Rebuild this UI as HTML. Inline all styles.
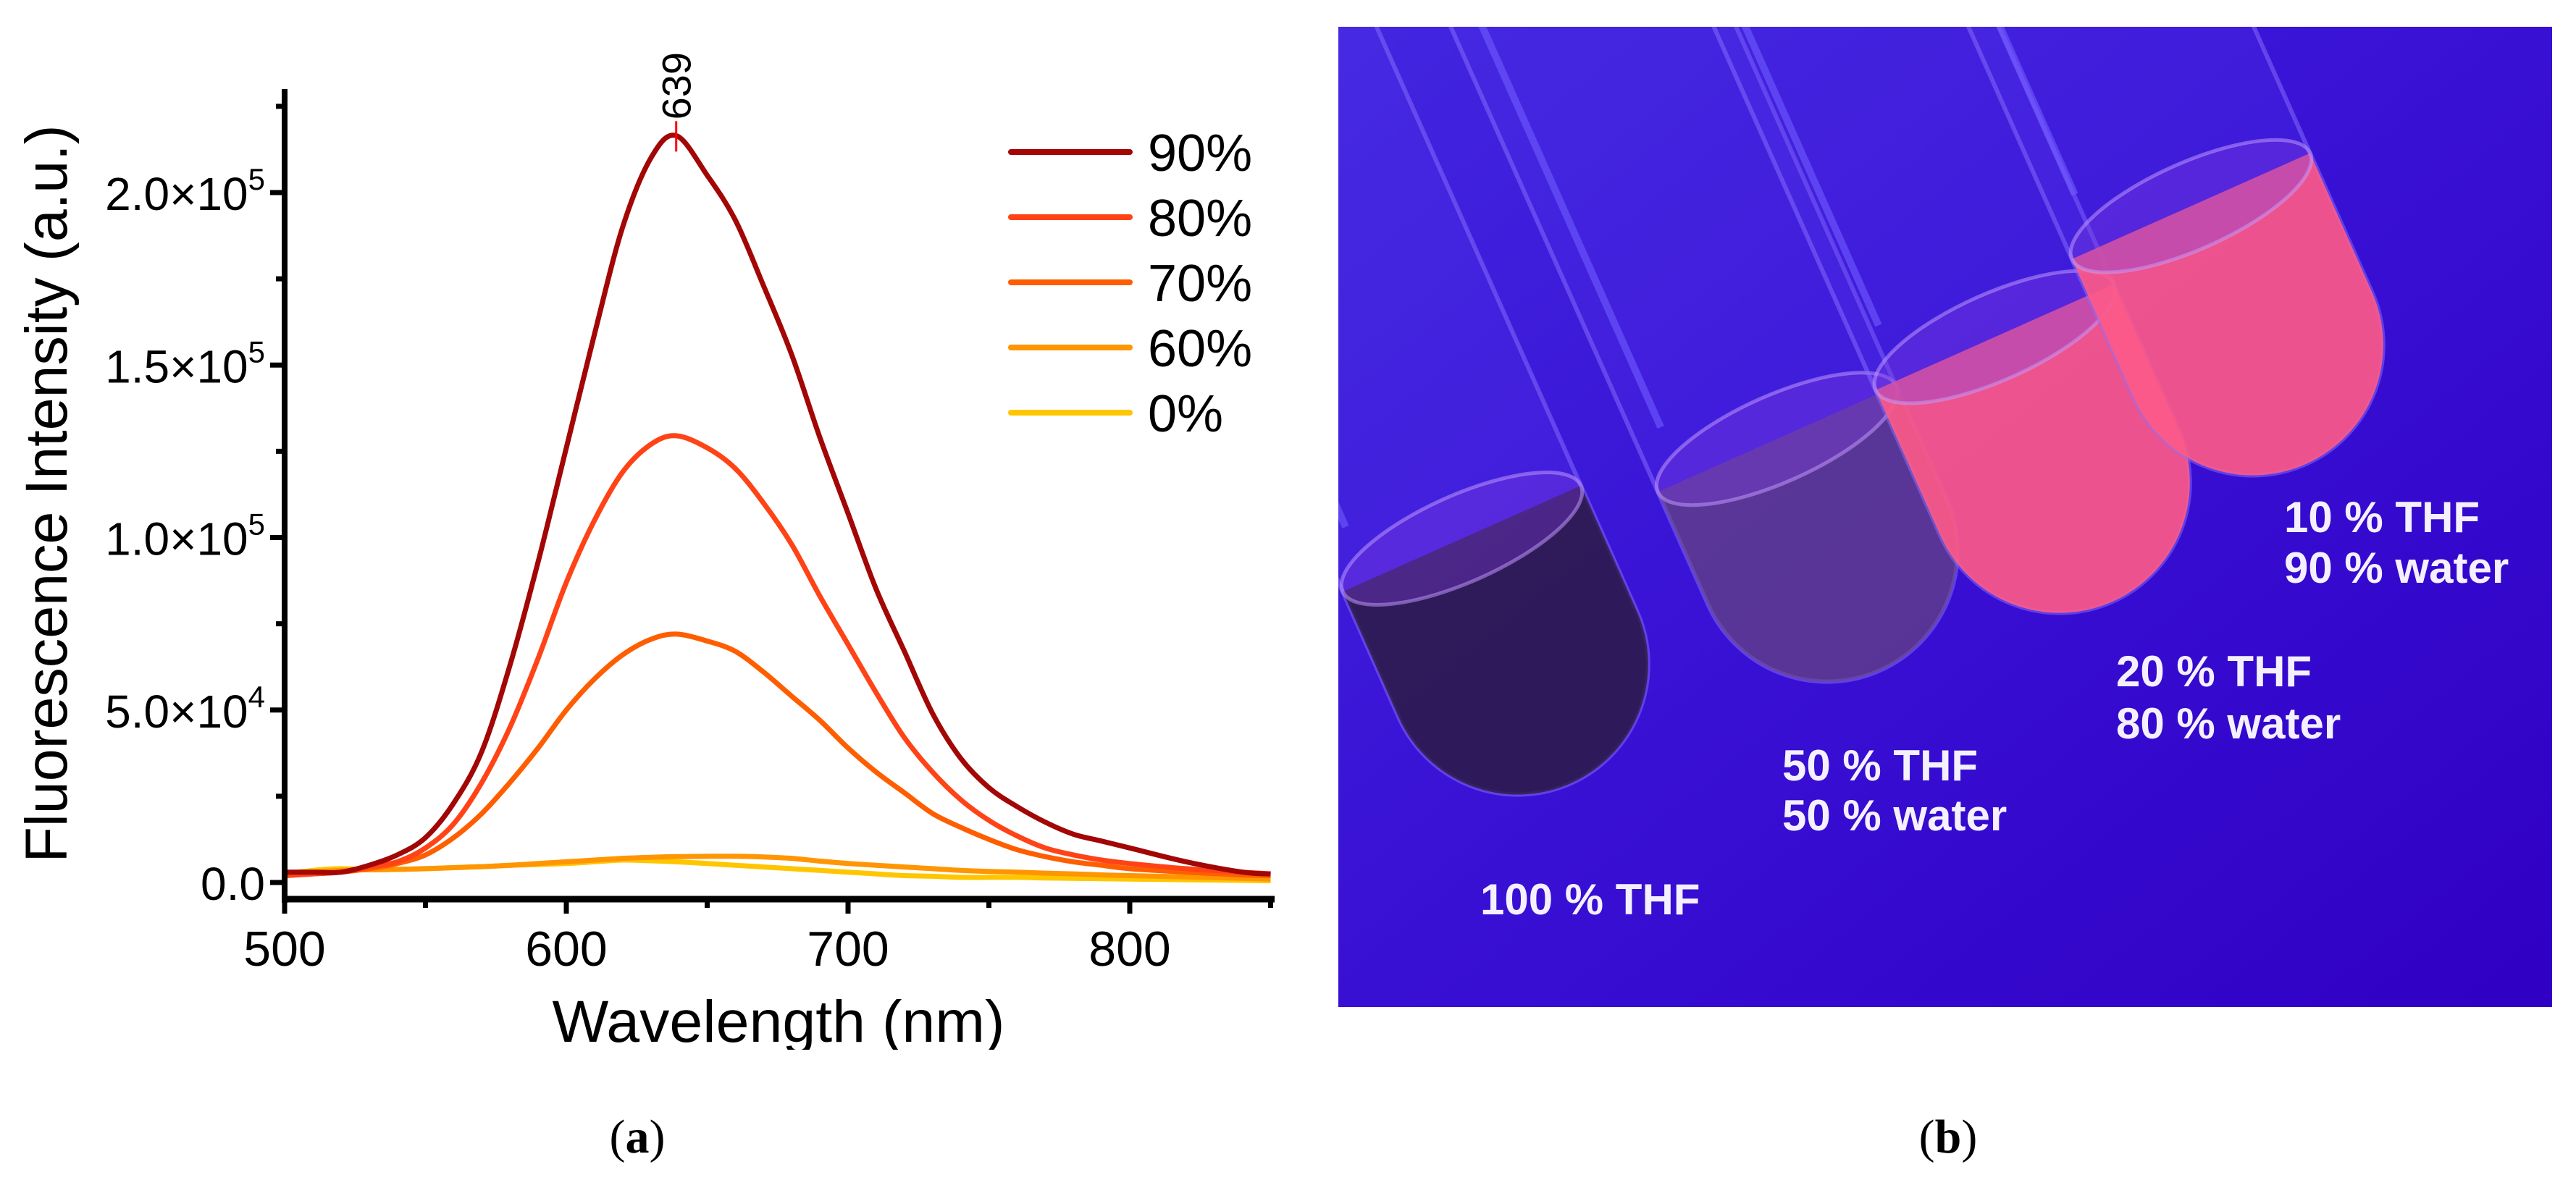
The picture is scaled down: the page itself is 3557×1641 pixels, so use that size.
<!DOCTYPE html>
<html><head><meta charset="utf-8"><style>
html,body{margin:0;padding:0;background:#fff;}
body{width:3557px;height:1641px;overflow:hidden;position:relative;}
svg{position:absolute;left:0;top:0;}
</style></head><body>
<svg id="fig" width="3557" height="1641" viewBox="0 0 3557 1641" xmlns="http://www.w3.org/2000/svg" font-family="Liberation Sans, sans-serif">
  <defs>
    <clipPath id="photoClip"><rect x="1848" y="37" width="1676" height="1354"/></clipPath>
    <clipPath id="wlClip"><rect x="600" y="1360" width="900" height="90"/></clipPath>
    <linearGradient id="bgGrad" x1="0" y1="0" x2="1" y2="1">
      <stop offset="0" stop-color="#4226e0"/>
      <stop offset="0.5" stop-color="#3810d4"/>
      <stop offset="1" stop-color="#3000c4"/>
    </linearGradient>
  </defs>
  <g id="chart"></g>
  <text x="880" y="1592" text-anchor="middle" font-family="Liberation Serif, serif" font-size="66">(<tspan font-weight="bold">a</tspan>)</text>

  <g clip-path="url(#photoClip)">
    <rect x="1848" y="37" width="1676" height="1354" fill="url(#bgGrad)"/>
    <g id="tubes"></g>
    <g font-weight="bold" font-size="60" fill="#f4f0ff">
      <text x="3154" y="735">10 % THF</text>
      <text x="3154" y="805">90 % water</text>
      <text x="2922" y="948">20 % THF</text>
      <text x="2922" y="1020">80 % water</text>
      <text x="2461" y="1078">50 % THF</text>
      <text x="2461" y="1147">50 % water</text>
      <text x="2044" y="1263">100 % THF</text>
    </g>
  </g>
  <text x="2690" y="1592" text-anchor="middle" font-family="Liberation Serif, serif" font-size="66">(<tspan font-weight="bold">b</tspan>)</text>
</svg>
<script>
const NS = "http://www.w3.org/2000/svg";
const wavelengths = [500,510,520,530,540,550,560,570,580,590,600,610,620,630,639,650,660,670,680,690,700,710,720,730,740,750,760,770,780,790,800,820,840,850];
const s90 = [0.3,0.3,0.3,0.5,0.8,1.3,2.3,3.8,6.3,9.3,12.6,15.9,19.0,21.0,21.65,20.5,19.2,17.3,15.3,12.9,10.7,8.5,6.7,4.9,3.6,2.75,2.2,1.75,1.4,1.2,1.0,0.6,0.3,0.25];
const s80 = [0.2,0.25,0.3,0.45,0.6,1.0,1.7,2.9,4.5,6.5,8.7,10.5,11.9,12.7,12.95,12.6,12.0,11.0,9.8,8.3,6.9,5.5,4.2,3.2,2.4,1.8,1.35,1.0,0.8,0.65,0.55,0.4,0.3,0.25];
const s70 = [0.2,0.25,0.3,0.4,0.55,0.8,1.3,2.0,2.9,3.9,5.0,5.9,6.6,7.05,7.2,7.0,6.7,6.1,5.4,4.7,3.9,3.2,2.6,2.0,1.6,1.25,0.95,0.75,0.6,0.5,0.4,0.3,0.22,0.2];
const s60 = [0.2,0.3,0.35,0.37,0.38,0.4,0.43,0.46,0.5,0.55,0.6,0.65,0.7,0.73,0.75,0.76,0.76,0.74,0.7,0.62,0.55,0.5,0.45,0.4,0.35,0.32,0.3,0.27,0.25,0.22,0.2,0.16,0.12,0.1];
const s0 = [0.25,0.35,0.4,0.37,0.38,0.4,0.43,0.46,0.5,0.52,0.55,0.6,0.65,0.63,0.6,0.55,0.5,0.45,0.4,0.35,0.3,0.25,0.2,0.18,0.15,0.15,0.15,0.13,0.12,0.11,0.1,0.08,0.06,0.05];
const seriesNames = ["90%","80%","70%","60%","0%"];
const seriesColors = ["#a20605","#ff4317","#ff5e00","#ff9500","#ffc600"];
const xTicks = [500,600,700,800];
const yTicks = [0,5,10,15,20];
const yTickMant = ["0.0","5.0","1.0","1.5","2.0"];
const yTickExp = ["","4","5","5","5"];
const peakLabel = "639";

const X0=393, XPX=389, Y0=1219, YPX=47.65;
const xs = w => X0 + (w-500)/100*XPX;
const ys = v => Y0 - v*YPX;
const chart = document.getElementById('chart');
function mk(tag, attrs, parent){const e=document.createElementNS(NS,tag);for(const k in attrs)e.setAttribute(k,attrs[k]);(parent||chart).appendChild(e);return e;}

function smoothPath(px, py){
  let d='M'+px[0].toFixed(1)+' '+py[0].toFixed(1);
  for(let j=0;j<px.length-1;j++){
    const x0=px[Math.max(j-1,0)],y0=py[Math.max(j-1,0)];
    const x1=px[j],y1=py[j],x2=px[j+1],y2=py[j+1];
    const x3=px[Math.min(j+2,px.length-1)],y3=py[Math.min(j+2,px.length-1)];
    const c1x=x1+(x2-x0)/6,c1y=y1+(y2-y0)/6,c2x=x2-(x3-x1)/6,c2y=y2-(y3-y1)/6;
    d+=` C${c1x.toFixed(1)} ${c1y.toFixed(1)} ${c2x.toFixed(1)} ${c2y.toFixed(1)} ${x2.toFixed(1)} ${y2.toFixed(1)}`;
  }
  return d;
}
const allSeries=[s90,s80,s70,s60,s0];
for(let i=allSeries.length-1;i>=0;i--){
  const d = smoothPath(wavelengths.map(xs), allSeries[i].map(ys));
  const p = mk('path',{d:d,fill:'none',stroke:seriesColors[i],'stroke-width':7,'stroke-linejoin':'round'});
  
  
}
const ax = mk('g',{});


mk('line',{x1:X0,y1:123,x2:X0,y2:1247,stroke:'#000','stroke-width':8},ax);
mk('line',{x1:X0-4,y1:1242,x2:1760,y2:1242,stroke:'#000','stroke-width':9},ax);
for(let w=500; w<=850; w+=50){
  const major = (w%100===0);
  mk('line',{x1:xs(w),y1:1242,x2:xs(w),y2:major?1262:1254,stroke:'#000','stroke-width':7},ax);
}
xTicks.forEach(w=>{
  const t=mk('text',{x:xs(w),y:1334,'text-anchor':'middle','font-size':68},ax);
  
  
  t.textContent=w;
});
for(let v=0; v<=22.5; v+=2.5){
  const major = (v%5===0);
  mk('line',{x1:X0,y1:ys(v),x2:major?X0-20:X0-12,y2:ys(v),stroke:'#000','stroke-width':7},ax);
}
yTicks.forEach((v,i)=>{
  const t=mk('text',{x:366,y:ys(v)+24,'text-anchor':'end','font-size':64},ax);
  
  
  if(yTickExp[i]){
    t.appendChild(document.createTextNode(yTickMant[i]+'\u00d710'));
    const sp=document.createElementNS(NS,'tspan');sp.setAttribute('font-size','42');sp.setAttribute('dy','-28');sp.textContent=yTickExp[i];t.appendChild(sp);
  } else t.textContent=yTickMant[i];
});
const xt = mk('text',{x:1075,y:1439,'text-anchor':'middle','font-size':82,'clip-path':'url(#wlClip)',textLength:625,lengthAdjust:'spacingAndGlyphs'});


xt.textContent='Wavelength (nm)';
const yt = mk('text',{x:0,y:0,'text-anchor':'middle','font-size':82,textLength:1019,lengthAdjust:'spacingAndGlyphs',transform:'translate(92,682) rotate(-90)'});


yt.textContent='Fluorescence Intensity (a.u.)';
const pk = mk('line',{x1:xs(639),y1:ys(21.65)-20,x2:xs(639),y2:ys(21.65)+22,stroke:'#ff0000','stroke-width':3});


const pt = mk('text',{x:0,y:0,'font-size':56,transform:`translate(${xs(639)+20},${ys(21.65)-22}) rotate(-90)`});


pt.textContent=peakLabel;
const lg = mk('g',{});


seriesNames.forEach((n,i)=>{
  const y=210+i*90;
  const ent=mk('g',{},lg);
  
  
  mk('line',{x1:1396,y1:y,x2:1560,y2:y,stroke:seriesColors[i],'stroke-width':8,'stroke-linecap':'round'},ent);
  const t=mk('text',{x:1585,y:y+26,'font-size':72},ent);
  t.textContent=n;
});

const tubesG=document.getElementById('tubes');
const tubes=[
  {x:2169,y:1082,liq:370,fill:'#2a1a3a',op:0.8},
  {x:2596,y:926,liq:350,fill:'#6a4a6a',op:0.6},
  {x:2917,y:831,liq:400,fill:'#ff5a86',op:0.9},
  {x:3184,y:641,liq:390,fill:'#ff5a86',op:0.9}
];
tubes.forEach((tb,i)=>{
  const g=mk('g',{transform:`translate(${tb.x},${tb.y}) rotate(-24)`},tubesG);
  
  
  const r=180;
  mk('path',{d:`M -${r} -1800 L -${r} -${r} A ${r} ${r} 0 0 0 ${r} -${r} L ${r} -1800 Z`,fill:'#5a3cf0','fill-opacity':0.18,stroke:'#8a70ff','stroke-width':6,'stroke-opacity':0.5},g);
  mk('path',{d:`M -${r} -${tb.liq} L -${r} -${r} A ${r} ${r} 0 0 0 ${r} -${r} L ${r} -${tb.liq} Z`,fill:tb.fill,'fill-opacity':tb.op},g);
  mk('ellipse',{cx:0,cy:-tb.liq,rx:r,ry:60,fill:'#8040e0','fill-opacity':0.35,stroke:'#c8a0ff','stroke-width':5,'stroke-opacity':0.5},g);
  mk('line',{x1:-r+40,y1:-1800,x2:-r+40,y2:-tb.liq-80,stroke:'#6f5cff','stroke-width':10,'stroke-opacity':0.6},g);
});
</script>
</body></html>
